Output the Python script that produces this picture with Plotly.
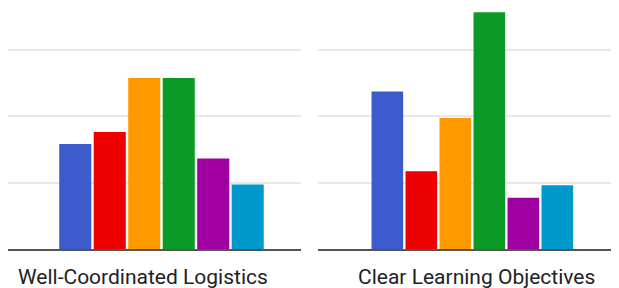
import plotly.graph_objects as go

groups = ["Well-Coordinated Logistics", "Clear Learning Objectives"]
bar_index = [0, 1, 2, 3, 4, 5]
colors = ["#3b5bcc", "#ee0000", "#ff9900", "#0a9a25", "#a000a0", "#0099cc"]
values_logistics = [1.58, 1.76, 2.57, 2.57, 1.36, 0.97]
values_objectives = [2.37, 1.17, 1.97, 3.56, 0.77, 0.96]

fig = go.Figure()
fig.add_trace(go.Bar(x=bar_index, y=values_logistics, marker=dict(color=colors, line=dict(width=0)),
                     xaxis="x", yaxis="y", showlegend=False))
fig.add_trace(go.Bar(x=bar_index, y=values_objectives, marker=dict(color=colors, line=dict(width=0)),
                     xaxis="x2", yaxis="y2", showlegend=False))

W, H = 619, 288
OFF = 8  # page body margin
base = 249 - OFF
ph = base  # plot area height with t=0
axis_common = dict(showgrid=False, zeroline=False, showticklabels=False, ticks="",
                   showline=True, linecolor="#555555", linewidth=2)
yaxis_common = dict(range=[0, ph / 66.5], dtick=1, tick0=0, showgrid=True, gridcolor="#e8e8e8",
                    gridwidth=2, zeroline=False, showticklabels=False, ticks="", showline=False)

label_y = (ph - (277 - OFF)) / ph

fig.update_layout(
    width=W, height=H,
    margin=dict(l=0, r=0, t=0, b=H - base),
    paper_bgcolor="white", plot_bgcolor="white",
    bargap=0.07,
    xaxis=dict(domain=[0, 293 / W], range=[-1.95, 6.545], anchor="y", **axis_common),
    xaxis2=dict(domain=[310 / W, 1.0], range=[-2.04, 7.05], anchor="y2", **axis_common),
    yaxis=dict(domain=[0, 1], anchor="x", **yaxis_common),
    yaxis2=dict(domain=[0, 1], anchor="x2", **yaxis_common),
    font=dict(family="Roboto, Arial, sans-serif", color="#222222"),
    annotations=[
        dict(text=groups[0], x=(143 - OFF) / W, y=label_y, xref="paper", yref="paper", showarrow=False,
             font=dict(size=21, color="#222222"), xanchor="center", yanchor="middle"),
        dict(text=groups[1], x=(476 - OFF) / W, y=label_y, xref="paper", yref="paper", showarrow=False,
             font=dict(size=21, color="#222222"), xanchor="center", yanchor="middle"),
    ],
)

fig.write_html("out.html")
